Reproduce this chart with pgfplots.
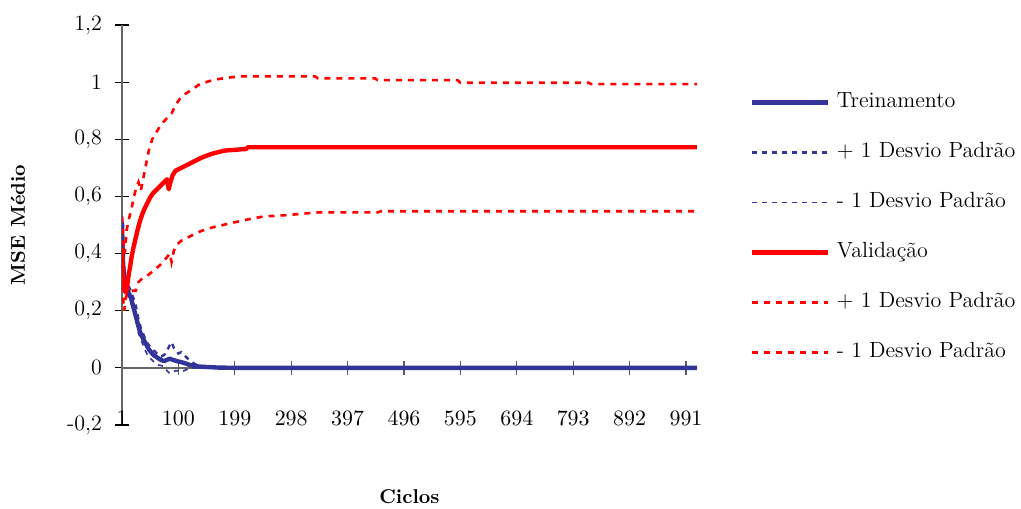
\documentclass[border=0pt]{standalone}
\usepackage{fontspec}
\usepackage{pgfplots}
\pgfplotsset{compat=1.18}
\definecolor{tblue}{HTML}{333399}
\definecolor{tred}{HTML}{FF0000}
\begin{document}
\begin{tikzpicture}
\useasboundingbox (-61pt,-41.5pt) rectangle (449.5pt,212.5pt);
\begin{axis}[
  at={(0pt,0pt)}, anchor=south west,
  scale only axis, width=287.4pt, height=200pt,
  xmin=1, xmax=1010, ymin=-0.2, ymax=1.2,
  axis x line=middle, axis y line=left,
  axis line style={-, draw=gray!80!black, line width=0.8pt},
  every inner x axis line/.append style={-},
  every outer y axis line/.append style={-},
  hide obscured x ticks=false, hide obscured y ticks=false,
  xtick={1,100,199,298,397,496,595,694,793,892,991},
  ytick={-0.2,0,0.2,0.4,0.6,0.8,1,1.2},
  yticklabels={{-0,2},0,{0,2},{0,4},{0,6},{0,8},1,{1,2}},
  tick align=center, major tick length=7pt,
  x tick style={gray!70!black, line width=0.6pt},
  y tick style={black, line width=0.6pt},
  ticklabel style={font=\fontsize{11}{13}\selectfont},
  xticklabel style={anchor=base, yshift=-25.4pt},
  yticklabel style={anchor=east, xshift=-3pt},
  xlabel={\textbf{Ciclos}}, ylabel={\textbf{MSE Médio}},
  every axis x label/.style={at={([yshift=-36pt]axis description cs:0.5,0)}, anchor=center},
  every axis y label/.style={at={([xshift=-52pt]axis description cs:0,0.5)}, anchor=center, rotate=90},
  legend cell align=left,
  legend image code/.code={\draw[#1] (0pt,0pt) -- (38pt,0pt);},
  legend style={at={(axis description cs:1.091,0.83)}, anchor=north west, draw=none, fill=none,
    inner sep=0pt, row sep=16pt, column sep=3.5pt, font=\fontsize{11}{13}\selectfont,
    nodes={inner sep=0pt, text height=7pt, text depth=2pt}},
]
\addplot[tblue, line width=2.2pt, line join=round] coordinates {
(1,0.51)(2,0.42)(3,0.36)(5,0.31)(7,0.29)(10,0.28)(13,0.26)(16,0.25)(20,0.22)(24,0.19)(28,0.16)(32,0.13)(36,0.11)(40,0.095)(44,0.08)(48,0.065)(52,0.055)(56,0.045)(60,0.04)(65,0.033)(70,0.027)(75,0.024)(80,0.028)(85,0.032)(90,0.028)(95,0.025)(100,0.022)(105,0.02)(110,0.017)(115,0.014)(120,0.01)(130,0.006)(140,0.004)(150,0.003)(170,0.001)(200,0)(1010,0)};
\addlegendentry{Treinamento}
\addplot[tblue, line width=1.2pt, dash pattern=on 2.5pt off 2.5pt] coordinates {
(1,0.53)(3,0.40)(6,0.33)(10,0.30)(14,0.28)(18,0.26)(22,0.24)(26,0.21)(30,0.17)(34,0.14)(38,0.12)(42,0.10)(46,0.085)(50,0.075)(55,0.065)(60,0.055)(65,0.045)(70,0.04)(75,0.045)(80,0.06)(85,0.08)(88,0.09)(92,0.07)(96,0.06)(100,0.05)(105,0.055)(110,0.045)(115,0.035)(120,0.025)(130,0.012)(140,0.007)(150,0.005)(170,0.002)(200,0.001)(250,0)(1010,0)};
\addlegendentry{+ 1 Desvio Padrão}
\addplot[tblue, line width=0.8pt, dash pattern=on 2.5pt off 2.5pt] coordinates {
(1,0.47)(3,0.34)(6,0.29)(10,0.26)(14,0.24)(18,0.22)(22,0.20)(26,0.16)(30,0.12)(34,0.10)(38,0.08)(42,0.06)(46,0.045)(50,0.035)(55,0.025)(60,0.015)(65,0.01)(70,0.008)(75,0.005)(80,-0.01)(85,-0.02)(90,-0.015)(95,-0.01)(100,-0.01)(105,-0.015)(110,-0.01)(115,-0.005)(120,-0.003)(130,0)(1010,0)};
\addlegendentry{- 1 Desvio Padrão}
\addplot[tred, line width=2.2pt, line join=round] coordinates {
(1,0.42)(2,0.36)(3,0.31)(5,0.28)(7,0.265)(9,0.27)(11,0.30)(13,0.33)(15,0.35)(18,0.39)(21,0.42)(24,0.445)(28,0.48)(32,0.51)(36,0.535)(40,0.555)(45,0.575)(50,0.595)(55,0.61)(60,0.62)(65,0.63)(70,0.64)(75,0.65)(80,0.66)(83,0.625)(86,0.65)(90,0.675)(95,0.69)(100,0.695)(110,0.705)(120,0.715)(130,0.725)(140,0.735)(150,0.743)(160,0.75)(170,0.755)(180,0.76)(190,0.762)(200,0.763)(210,0.765)(218,0.765)(222,0.772)(1010,0.772)};
\addlegendentry{Validação}
\addplot[tred, line width=1.3pt, dash pattern=on 3pt off 3pt] coordinates {
(1,0.53)(3,0.45)(6,0.40)(9,0.48)(13,0.52)(18,0.56)(22,0.60)(26,0.63)(30,0.65)(34,0.62)(38,0.66)(42,0.70)(48,0.76)(54,0.80)(60,0.82)(69,0.85)(78,0.87)(88,0.89)(95,0.92)(102,0.94)(113,0.96)(125,0.975)(135,0.99)(153,1.003)(171,1.011)(189,1.016)(207,1.02)(340,1.02)(345,1.013)(445,1.013)(450,1.007)(590,1.007)(595,0.998)(820,0.998)(825,0.993)(1010,0.993)};
\addlegendentry{+ 1 Desvio Padrão}
\addplot[tred, line width=1.3pt, dash pattern=on 3pt off 3pt] coordinates {
(1,0.33)(3,0.24)(5,0.20)(7,0.24)(10,0.26)(15,0.265)(20,0.27)(25,0.27)(30,0.30)(35,0.31)(44,0.32)(50,0.33)(56,0.34)(62,0.35)(68,0.36)(74,0.375)(79,0.385)(85,0.40)(88,0.37)(92,0.41)(97,0.43)(105,0.445)(112,0.45)(120,0.46)(130,0.47)(139,0.478)(148,0.485)(157,0.49)(168,0.496)(178,0.50)(195,0.508)(214,0.516)(230,0.523)(250,0.53)(270,0.532)(294,0.535)(320,0.54)(345,0.544)(450,0.544)(455,0.548)(1010,0.548)};
\addlegendentry{- 1 Desvio Padrão}
\end{axis}
\end{tikzpicture}
\end{document}
